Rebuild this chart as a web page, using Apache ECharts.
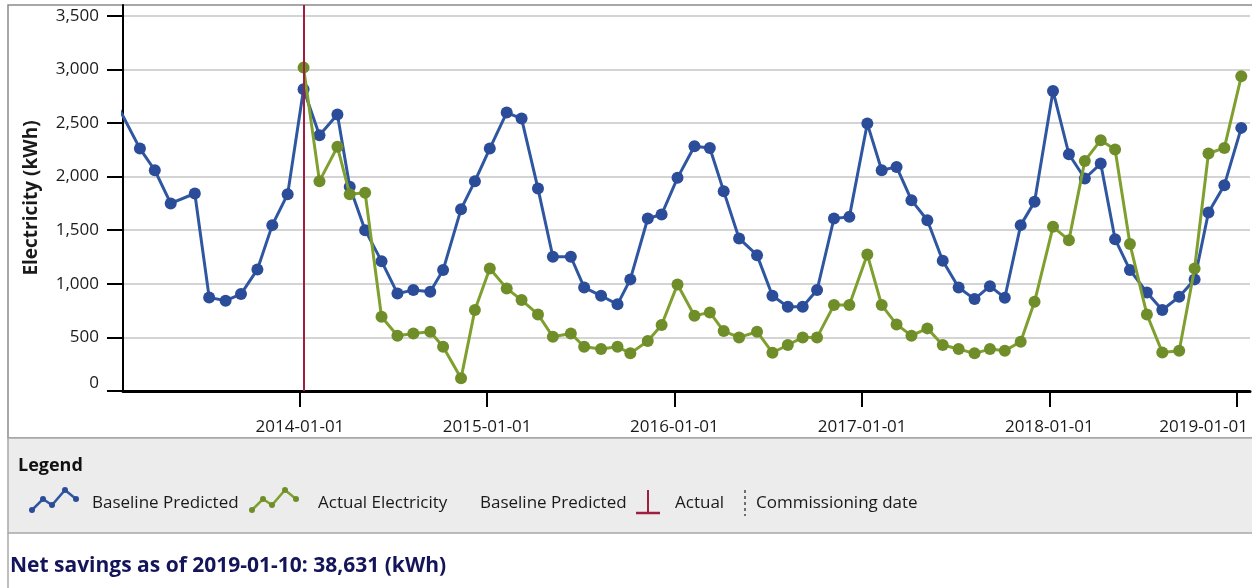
<!DOCTYPE html>
<html>
<head>
<meta charset="utf-8">
<script src="https://cdn.jsdelivr.net/npm/echarts@6/dist/echarts.min.js"></script>
<style>
html,body{margin:0;padding:0;background:#fff;}
#chart{width:1252px;height:588px;}
</style>
</head>
<body>
<div id="chart"></div>
<script>
// ---- data ----
const billDates = [
  '2013-01-15','2013-02-23','2013-03-24','2013-04-24','2013-06-10','2013-07-08','2013-08-09','2013-09-08','2013-10-10','2013-11-08','2013-12-08',
  '2014-01-08','2014-02-08','2014-03-15','2014-04-08','2014-05-08','2014-06-09','2014-07-10','2014-08-10','2014-09-12','2014-10-07','2014-11-11','2014-12-08',
  '2015-01-06','2015-02-08','2015-03-09','2015-04-10','2015-05-09','2015-06-13','2015-07-09','2015-08-11','2015-09-12','2015-10-07','2015-11-10','2015-12-07',
  '2016-01-07','2016-02-09','2016-03-10','2016-04-06','2016-05-06','2016-06-10','2016-07-10','2016-08-09','2016-09-07','2016-10-05','2016-11-07','2016-12-07',
  '2017-01-11','2017-02-08','2017-03-09','2017-04-07','2017-05-08','2017-06-07','2017-07-08','2017-08-08','2017-09-07','2017-10-06','2017-11-06','2017-12-03',
  '2018-01-08','2018-02-08','2018-03-11','2018-04-11','2018-05-09','2018-06-07','2018-07-10','2018-08-09','2018-09-11','2018-10-11','2018-11-07','2018-12-08',
  '2019-01-10'
];
const baselinePredicted = [
  2620, 2261, 2059, 1749, 1842, 873, 842, 904, 1134, 1547, 1836,
  2814, 2385, 2578, 1904, 1500, 1211, 910, 941, 926, 1128, 1696, 1957,
  2261, 2597, 2541, 1888, 1252, 1252, 966, 888, 808, 1041, 1609, 1646,
  1988, 2283, 2267, 1864, 1423, 1267, 888, 786, 786, 941, 1609, 1624,
  2494, 2059, 2090, 1780, 1593, 1214, 966, 857, 978, 870, 1547, 1764,
  2799, 2208, 1982, 2121, 1416, 1128, 919, 755, 879, 1041, 1665, 1920,
  2454
];
const actualElectricity = [
  null, null, null, null, null, null, null, null, null, null, null,
  3016, 1957, 2277, 1836, 1848, 693, 516, 537, 553, 413, 118, 755,
  1143, 957, 848, 714, 506, 537, 413, 391, 413, 351, 466, 615,
  994, 702, 733, 559, 500, 553, 357, 429, 500, 500, 801, 801,
  1273, 801, 621, 516, 584, 429, 391, 351, 391, 376, 460, 832,
  1531, 1407, 2146, 2339, 2252, 1370, 714, 360, 376, 1143, 2215, 2267,
  2935
];
const commissioningDate = '2014-01-08';
const xAxisStart = '2013-01-21';
const xAxisEnd = '2019-01-27';
const xTickLabels = ['2014-01-01','2015-01-01','2016-01-01','2017-01-01','2018-01-01','2019-01-01'];
const yTickValues = [0, 500, 1000, 1500, 2000, 2500, 3000, 3500];
const yAxisTitle = 'Electricity (kWh)';
const footerText = 'Net savings as of 2019-01-10: 38,631 (kWh)';

// ---- build chart ----
const ts = s => echarts.number.parseDate(s).getTime();
const xTickValues = xTickLabels.map(ts);
const labelByValue = {};
xTickLabels.forEach((s, i) => { labelByValue[xTickValues[i]] = s; });
const lastTick = xTickValues[xTickValues.length - 1];

const blueLine = '#2f56a0', blueDot = '#2b4c98';
const greenLine = '#7f9f2e', greenDot = '#6f8e2a';
const red = '#9e1e40';
const FONT = '"Open Sans", "Noto Sans", sans-serif';

const chart = echarts.init(document.getElementById('chart'), null, {renderer: 'canvas'});

function zigzag(x0, color, dot) {
  const pts = [[x0, 510], [x0 + 11, 499], [x0 + 20, 505], [x0 + 33, 490], [x0 + 44, 499]];
  const els = [{type: 'polyline', shape: {points: pts}, style: {stroke: color, lineWidth: 2.5, fill: null}, z: 10}];
  pts.forEach(p => els.push({type: 'circle', shape: {cx: p[0], cy: p[1], r: 3}, style: {fill: dot}, z: 11}));
  return els;
}
const legendText = (x, t) => ({type: 'text', x: x, y: 503, style: {text: t, font: '17px ' + FONT, fill: '#1a1a1a', textVerticalAlign: 'middle'}, z: 10});

const graphics = [
  {type: 'rect', shape: {x: 8, y: 5, width: 1260, height: 433}, style: {fill: null, stroke: '#8a8a8a', lineWidth: 1.5}, z: -1, silent: true},
  {type: 'rect', shape: {x: 8, y: 438, width: 1260, height: 95}, style: {fill: '#ececec', stroke: '#a8a8a8', lineWidth: 1.5}, z: 0},
  {type: 'line', shape: {x1: 8, y1: 533, x2: 8, y2: 588}, style: {stroke: '#a8a8a8', lineWidth: 1.5}, z: 0},
  {type: 'text', x: 18, y: 466, style: {text: 'Legend', font: 'bold 18px ' + FONT, fill: '#111', textVerticalAlign: 'middle'}, z: 10},
  ...zigzag(32, blueLine, blueDot),
  legendText(92, 'Baseline Predicted'),
  ...zigzag(252, greenLine, greenDot),
  legendText(318, 'Actual Electricity'),
  legendText(480, 'Baseline Predicted'),
  {type: 'line', shape: {x1: 648, y1: 490, x2: 648, y2: 513}, style: {stroke: red, lineWidth: 2}, z: 10},
  {type: 'line', shape: {x1: 636, y1: 513, x2: 660, y2: 513}, style: {stroke: red, lineWidth: 2.5}, z: 10},
  legendText(675, 'Actual'),
  {type: 'line', shape: {x1: 745, y1: 490, x2: 745, y2: 516}, style: {stroke: '#444', lineWidth: 1.5, lineDash: [3, 3]}, z: 10},
  legendText(756, 'Commissioning date'),
  {type: 'text', x: 10, y: 566, style: {text: footerText, font: 'bold 21px ' + FONT, fill: '#14145a', textVerticalAlign: 'middle'}, z: 10}
];

const option = {
  animation: false,
  backgroundColor: '#ffffff',
  textStyle: {fontFamily: FONT},
  grid: {left: 123, right: 2, top: 5, bottom: 197, containLabel: false},
  xAxis: {
    type: 'value',
    min: ts(xAxisStart),
    max: ts(xAxisEnd),
    axisLine: {show: true, onZero: false, lineStyle: {color: '#000', width: 3}},
    axisTick: {show: true, length: 16, lineStyle: {color: '#000', width: 2}, customValues: xTickValues},
    axisLabel: {
      customValues: xTickValues,
      margin: 28,
      color: '#1a1a1a',
      fontSize: 17,
      fontFamily: FONT,
      formatter: v => v === lastTick ? '{last|' + labelByValue[v] + '}' : (labelByValue[v] || ''),
      rich: {last: {padding: [0, 66, 0, 0], fontSize: 17, color: '#1a1a1a', fontFamily: FONT}}
    },
    splitLine: {show: false}
  },
  yAxis: {
    type: 'value',
    min: 0,
    max: 3600,
    interval: 500,
    name: yAxisTitle,
    nameLocation: 'middle',
    nameGap: 82,
    nameTextStyle: {fontWeight: 'bold', fontSize: 19, color: '#1a1a1a', fontFamily: FONT},
    axisLine: {show: true, lineStyle: {color: '#000', width: 2}},
    axisTick: {show: true, length: 16, lineStyle: {color: '#000', width: 2}, customValues: yTickValues},
    axisLabel: {
      customValues: yTickValues,
      margin: 24,
      color: '#1a1a1a',
      fontSize: 17,
      fontFamily: FONT,
      formatter: v => v === 0 ? '{z|0}' : v.toLocaleString('en-US'),
      rich: {z: {padding: [0, 0, 16, 0], fontSize: 17, color: '#1a1a1a', fontFamily: FONT}}
    },
    splitLine: {show: true, lineStyle: {color: '#d4d4d4', width: 2}}
  },
  series: [
    {
      name: 'Baseline Predicted',
      type: 'line',
      data: billDates.map((d, i) => [ts(d), baselinePredicted[i]]),
      symbol: 'circle',
      symbolSize: 12,
      showAllSymbol: true,
      clip: true,
      lineStyle: {color: blueLine, width: 3},
      itemStyle: {color: blueDot},
      emphasis: {disabled: true},
      z: 2
    },
    {
      name: 'Actual Electricity',
      type: 'line',
      data: billDates.map((d, i) => [ts(d), actualElectricity[i]]).filter(p => p[1] !== null),
      symbol: 'circle',
      symbolSize: 12,
      showAllSymbol: true,
      clip: true,
      lineStyle: {color: greenLine, width: 3},
      itemStyle: {color: greenDot},
      emphasis: {disabled: true},
      z: 3,
      markLine: {
        silent: true,
        symbol: 'none',
        label: {show: false},
        lineStyle: {color: red, width: 2, type: 'solid'},
        data: [{xAxis: ts(commissioningDate)}]
      }
    }
  ],
  graphic: graphics
};
chart.setOption(option);
</script>
</body>
</html>
